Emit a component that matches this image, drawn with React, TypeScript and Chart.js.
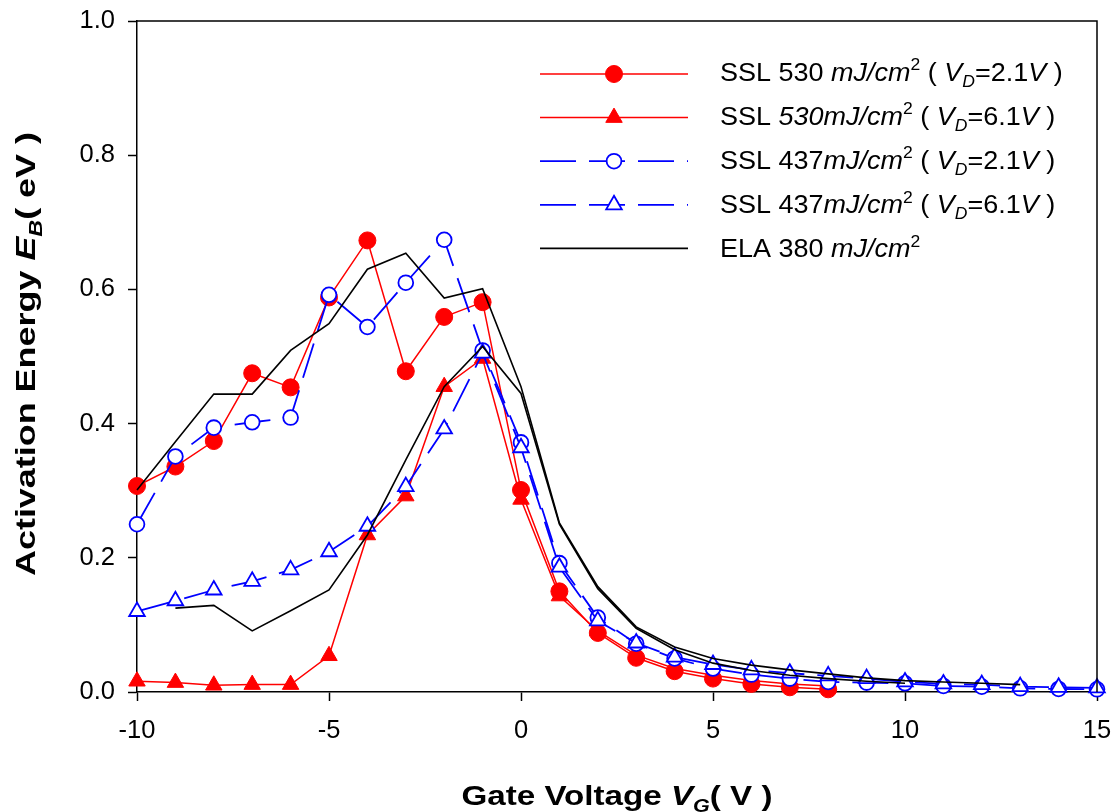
import React, { useEffect, useRef } from 'react';
import { Chart, registerables } from 'chart.js';

Chart.register(...registerables);

const FONT = '"Liberation Sans", Arial, Helvetica, sans-serif';

// ---------- data ----------
const ssl530Vd21Voltage = [-10, -9, -8, -7, -6, -5, -4, -3, -2, -1, 0, 1, 2, 3, 4, 5, 6, 7, 8];
const ssl530Vd21 = [0.307, 0.336, 0.374, 0.475, 0.454, 0.588, 0.673, 0.478, 0.559, 0.581, 0.301, 0.150, 0.088, 0.051, 0.031, 0.020, 0.012, 0.007, 0.004];

const ssl530Vd61Voltage = [-10, -9, -8, -7, -6, -5, -4, -3, -2, -1, 0, 1, 2, 3, 4, 5, 6, 7, 8];
const ssl530Vd61 = [0.016, 0.014, 0.010, 0.011, 0.011, 0.054, 0.234, 0.292, 0.455, 0.497, 0.287, 0.143, 0.091, 0.055, 0.035, 0.025, 0.017, 0.012, 0.009];

const ssl437Vd21Voltage = [-10, -9, -8, -7, -6, -5, -4, -3, -2, -1, 0, 1, 2, 3, 4, 5, 6, 7, 8, 9, 10, 11, 12, 13, 14, 15];
const ssl437Vd21 = [0.250, 0.351, 0.394, 0.402, 0.409, 0.592, 0.544, 0.610, 0.674, 0.509, 0.372, 0.192, 0.111, 0.072, 0.050, 0.035, 0.026, 0.020, 0.015, 0.014, 0.013, 0.009, 0.008, 0.0055, 0.0045, 0.004];

const ssl437Vd61Voltage = [-10, -9, -8, -7, -6, -5, -4, -3, -2, -1, 0, 1, 2, 3, 4, 5, 6, 7, 8, 9, 10, 11, 12, 13, 14, 15];
const ssl437Vd61 = [0.120, 0.136, 0.152, 0.165, 0.182, 0.209, 0.247, 0.306, 0.392, 0.505, 0.364, 0.186, 0.106, 0.073, 0.052, 0.041, 0.033, 0.028, 0.024, 0.020, 0.015, 0.012, 0.011, 0.008, 0.007, 0.006];

const ela380Vd21Voltage = [-10, -9, -8, -7, -6, -5, -4, -3, -2, -1, 0, 1, 2, 3, 4, 5, 6, 7, 8, 9, 10, 11, 12, 13];
const ela380Vd21 = [0.301, 0.373, 0.444, 0.444, 0.509, 0.549, 0.630, 0.654, 0.587, 0.601, 0.455, 0.252, 0.157, 0.097, 0.067, 0.050, 0.040, 0.033, 0.027, 0.021, 0.017, 0.015, 0.013, 0.011];

const ela380Vd61Voltage = [-9, -8, -7, -6, -5, -4, -3, -2, -1, 0, 1, 2, 3, 4, 5, 6, 7, 8, 9, 10];
const ela380Vd61 = [0.125, 0.129, 0.091, 0.121, 0.152, 0.234, 0.346, 0.455, 0.515, 0.445, 0.250, 0.154, 0.095, 0.063, 0.043, 0.032, 0.025, 0.020, 0.016, 0.013];

const xTicks = [-10, -5, 0, 5, 10, 15];
const yTicks = [0, 0.2, 0.4, 0.6, 0.8, 1.0];

type Seg = { t: string; i?: boolean; sub?: boolean; sup?: boolean };

const legendLabels: Seg[][] = [
  [{ t: 'SSL 530 ' }, { t: 'mJ/cm', i: true }, { t: '2', sup: true }, { t: ' ( ' }, { t: 'V', i: true }, { t: 'D', i: true, sub: true }, { t: '=2.1' }, { t: 'V', i: true }, { t: ' )' }],
  [{ t: 'SSL ' }, { t: '530mJ/cm', i: true }, { t: '2', sup: true }, { t: ' ( ' }, { t: 'V', i: true }, { t: 'D', i: true, sub: true }, { t: '=6.1' }, { t: 'V', i: true }, { t: ' )' }],
  [{ t: 'SSL 437' }, { t: 'mJ/cm', i: true }, { t: '2', sup: true }, { t: ' ( ' }, { t: 'V', i: true }, { t: 'D', i: true, sub: true }, { t: '=2.1' }, { t: 'V', i: true }, { t: ' )' }],
  [{ t: 'SSL 437' }, { t: 'mJ/cm', i: true }, { t: '2', sup: true }, { t: ' ( ' }, { t: 'V', i: true }, { t: 'D', i: true, sub: true }, { t: '=6.1' }, { t: 'V', i: true }, { t: ' )' }],
  [{ t: 'ELA 380 ' }, { t: 'mJ/cm', i: true }, { t: '2', sup: true }],
];

const xTitle: Seg[] = [{ t: 'Gate Voltage ' }, { t: 'V', i: true }, { t: 'G', i: true, sub: true }, { t: '( V )' }];
const yTitle: Seg[] = [{ t: 'Activation Energy ' }, { t: 'E', i: true }, { t: 'B', i: true, sub: true }, { t: '( eV )' }];

// ---------- helpers ----------
function segFont(s: Seg, size: number, bold: boolean) {
  const sz = s.sub || s.sup ? size * 0.65 : size;
  return `${s.i ? 'italic ' : ''}${bold ? 'bold ' : ''}${sz}px ${FONT}`;
}
function measureRich(ctx: CanvasRenderingContext2D, segs: Seg[], size: number, bold: boolean) {
  let w = 0;
  for (const s of segs) {
    ctx.font = segFont(s, size, bold);
    w += ctx.measureText(s.t).width;
  }
  return w;
}
function drawRich(ctx: CanvasRenderingContext2D, segs: Seg[], size: number, bold: boolean, sx: number, center: boolean) {
  const w = measureRich(ctx, segs, size, bold);
  ctx.save();
  ctx.scale(sx, 1);
  let cx = center ? -w / 2 : 0;
  ctx.textBaseline = 'alphabetic';
  ctx.textAlign = 'left';
  ctx.fillStyle = '#000';
  for (const s of segs) {
    ctx.font = segFont(s, size, bold);
    const dy = s.sub ? size * 0.25 : s.sup ? -size * 0.42 : 0;
    ctx.fillText(s.t, cx, dy);
    cx += ctx.measureText(s.t).width;
  }
  ctx.restore();
}
function drawMarker(ctx: CanvasRenderingContext2D, style: string, x: number, y: number, r: number, fill: string, stroke: string, bw: number) {
  ctx.save();
  ctx.setLineDash([]);
  ctx.beginPath();
  if (style === 'circle') {
    ctx.arc(x, y, r, 0, Math.PI * 2);
  } else {
    ctx.moveTo(x, y - r);
    ctx.lineTo(x + Math.sin((2 * Math.PI) / 3) * r, y + 0.5 * r);
    ctx.lineTo(x - Math.sin((2 * Math.PI) / 3) * r, y + 0.5 * r);
  }
  ctx.closePath();
  ctx.fillStyle = fill;
  ctx.fill();
  ctx.lineWidth = bw;
  ctx.strokeStyle = stroke;
  ctx.stroke();
  ctx.restore();
}

const zip = (xs: number[], ys: number[]) => xs.map((x, i) => ({ x, y: ys[i] }));

const framePlugin = {
  id: 'frameAndText',
  afterDraw(chart: any) {
    const ctx: CanvasRenderingContext2D = chart.ctx;
    const a = chart.chartArea;
    ctx.save();
    ctx.strokeStyle = '#000';
    ctx.lineWidth = 1.5;
    ctx.beginPath();
    ctx.moveTo(a.left, a.top);
    ctx.lineTo(a.right, a.top);
    ctx.lineTo(a.right, a.bottom);
    ctx.stroke();

    // legend
    const order = [0, 1, 2, 3, 4];
    order.forEach((di, k) => {
      const ds = chart.data.datasets[di];
      const ly = 74 + 43.6 * k;
      ctx.save();
      ctx.strokeStyle = ds.borderColor;
      ctx.lineWidth = ds.borderWidth;
      ctx.setLineDash(ds.borderDash || []);
      ctx.beginPath();
      ctx.moveTo(540, ly);
      ctx.lineTo(688, ly);
      ctx.stroke();
      ctx.restore();
      if (ds.pointRadius > 0) {
        drawMarker(ctx, ds.pointStyle, 614, ly, ds.pointRadius, ds.pointBackgroundColor, ds.pointBorderColor, ds.pointBorderWidth);
      }
      ctx.save();
      ctx.translate(720, 80.5 + 44.2 * k);
      drawRich(ctx, legendLabels[k], 25, false, 1.08, false);
      ctx.restore();
    });

    // x title
    const xw = measureRich(ctx, xTitle, 27, true);
    ctx.save();
    ctx.translate(617, 805);
    drawRich(ctx, xTitle, 27, true, 311 / xw, true);
    ctx.restore();

    // y title
    const yw = measureRich(ctx, yTitle, 27, true);
    ctx.save();
    ctx.translate(35, 354);
    ctx.rotate(-Math.PI / 2);
    drawRich(ctx, yTitle, 27, true, 444 / yw, true);
    ctx.restore();

    ctx.restore();
  },
};

export default function App() {
  const ref = useRef<HTMLCanvasElement | null>(null);

  useEffect(() => {
    if (!ref.current) return;
    const red = '#ff0000';
    const blue = '#0000ff';
    const chart = new Chart(ref.current, {
      type: 'line',
      data: {
        datasets: [
          {
            label: 'SSL 530 mJ/cm2 (VD=2.1V)',
            data: zip(ssl530Vd21Voltage, ssl530Vd21),
            borderColor: red, borderWidth: 1.5,
            pointStyle: 'circle', pointRadius: 8.5, pointBackgroundColor: red, pointBorderColor: red, pointBorderWidth: 1,
            order: 5, clip: false as any, tension: 0, fill: false,
          },
          {
            label: 'SSL 530mJ/cm2 (VD=6.1V)',
            data: zip(ssl530Vd61Voltage, ssl530Vd61),
            borderColor: red, borderWidth: 1.5,
            pointStyle: 'triangle', pointRadius: 9.5, pointBackgroundColor: red, pointBorderColor: red, pointBorderWidth: 1,
            order: 4, clip: false as any, tension: 0, fill: false,
          },
          {
            label: 'SSL 437mJ/cm2 (VD=2.1V)',
            data: zip(ssl437Vd21Voltage, ssl437Vd21),
            borderColor: blue, borderWidth: 1.8, borderDash: [36, 13],
            pointStyle: 'circle', pointRadius: 7.4, pointBackgroundColor: '#ffffff', pointBorderColor: blue, pointBorderWidth: 1.8,
            order: 3, clip: false as any, tension: 0, fill: false,
          },
          {
            label: 'SSL 437mJ/cm2 (VD=6.1V)',
            data: zip(ssl437Vd61Voltage, ssl437Vd61),
            borderColor: blue, borderWidth: 1.8, borderDash: [36, 13],
            pointStyle: 'triangle', pointRadius: 9, pointBackgroundColor: '#ffffff', pointBorderColor: blue, pointBorderWidth: 1.8,
            order: 2, clip: false as any, tension: 0, fill: false,
          },
          {
            label: 'ELA 380 mJ/cm2',
            data: zip(ela380Vd21Voltage, ela380Vd21),
            borderColor: '#000000', borderWidth: 1.6,
            pointRadius: 0, pointStyle: 'circle',
            order: 1, clip: false as any, tension: 0, fill: false,
          },
          {
            label: 'ELA 380 mJ/cm2 (VD=6.1V)',
            data: zip(ela380Vd61Voltage, ela380Vd61),
            borderColor: '#000000', borderWidth: 1.6,
            pointRadius: 0, pointStyle: 'circle',
            order: 0, clip: false as any, tension: 0, fill: false,
          },
        ] as any,
      },
      options: {
        responsive: true,
        maintainAspectRatio: false,
        animation: false,
        events: [],
        layout: { padding: { top: 21, right: 20, left: 0, bottom: 0 } },
        plugins: {
          legend: { display: false },
          tooltip: { enabled: false },
          title: { display: false },
        },
        scales: {
          x: {
            type: 'linear',
            min: -10,
            max: 15,
            afterFit: (s: any) => {
              s.height = 120;
              s.paddingLeft = 0; s.paddingRight = 0; s.paddingTop = 0; s.paddingBottom = 0;
            },
            afterBuildTicks: (s: any) => { s.ticks = xTicks.map((v) => ({ value: v })); },
            ticks: {
              font: { family: FONT, size: 25.5 },
              color: '#000',
              padding: 15,
              maxRotation: 0,
              autoSkip: false,
              callback: (v: any) => String(v),
            },
            grid: { display: true, drawOnChartArea: false, drawTicks: true, tickLength: 9, tickWidth: 1.5, tickColor: '#000' },
            border: { display: true, color: '#000', width: 1.5 },
          },
          y: {
            type: 'linear',
            min: 0,
            max: 1,
            afterFit: (s: any) => {
              s.width = 137;
              s.paddingLeft = 0; s.paddingRight = 0; s.paddingTop = 0; s.paddingBottom = 0;
            },
            afterBuildTicks: (s: any) => { s.ticks = yTicks.map((v) => ({ value: v })); },
            ticks: {
              font: { family: FONT, size: 25.5 },
              color: '#000',
              padding: 13,
              autoSkip: false,
              callback: (v: any) => Number(v).toFixed(1),
            },
            grid: { display: true, drawOnChartArea: false, drawTicks: true, tickLength: 9, tickWidth: 1.5, tickColor: '#000' },
            border: { display: true, color: '#000', width: 1.5 },
          },
        },
      } as any,
      plugins: [framePlugin],
    });
    return () => chart.destroy();
  }, []);

  return (
    <div style={{ position: 'fixed', left: 0, top: 0, width: 1117, height: 812, background: '#fff' }}>
      <canvas ref={ref} />
    </div>
  );
}
